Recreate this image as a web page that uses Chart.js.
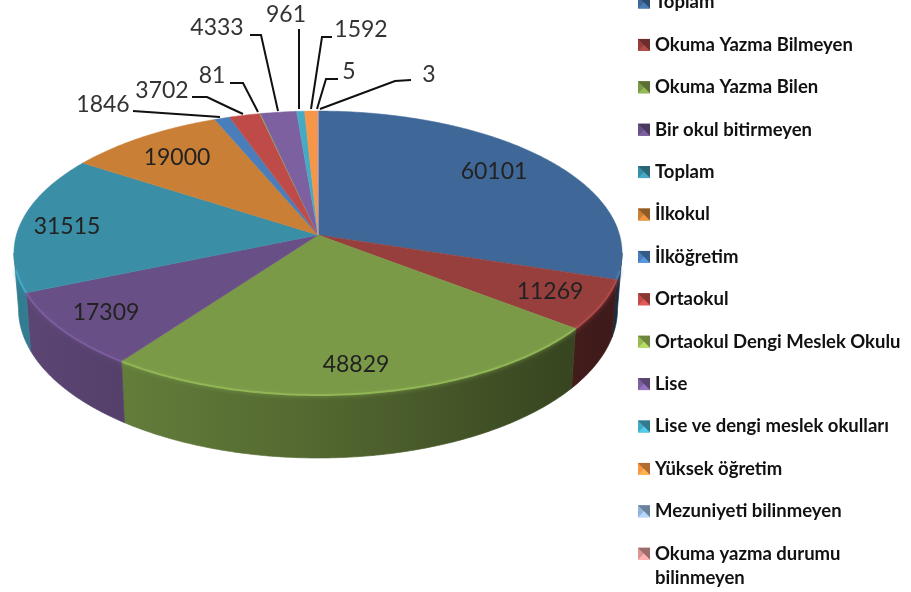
<!DOCTYPE html>
<html>
<head>
<meta charset="utf-8">
<title>Okuma yazma durumu</title>
<script src="https://cdn.jsdelivr.net/npm/chart.js@4/dist/chart.umd.min.js"></script>
<style>
    html, body { margin: 0; padding: 0; background: #fff; overflow: hidden; }
    canvas { display: block; }
</style>
</head>
<body>
<canvas id="pieChart" width="911" height="592"></canvas>
<script>
const categories = [
    "Toplam", "Okuma Yazma Bilmeyen", "Okuma Yazma Bilen", "Bir okul bitirmeyen",
    "Toplam", "İlkokul", "İlköğretim", "Ortaokul", "Ortaokul Dengi Meslek Okulu",
    "Lise", "Lise ve dengi meslek okulları", "Yüksek öğretim",
    "Mezuniyeti bilinmeyen", "Okuma yazma durumu bilinmeyen"
];
const values = [60101, 11269, 48829, 17309, 31515, 19000, 1846, 3702, 81, 4333, 961, 1592, 5, 3];
const colors = [
    "#3f6898", "#963f3d", "#7b9a48", "#684f85", "#3a8ea6", "#c97f36", "#4a7ebb",
    "#be4b48", "#98b954", "#7d60a0", "#46aac5", "#f79646", "#95b3d7", "#d99694"
];

// where the value labels sit, and the leader lines of the small slices
const innerLabels = { 0: [494, 172], 1: [550, 292], 2: [356, 365], 3: [106, 313], 4: [67, 227], 5: [177, 158] };
const outerLabels = {
    6: { text: [103, 105], line: [[133, 111], [220, 117]] },
    7: { text: [162, 91], line: [[192, 97], [207, 97], [230, 108], [243, 114]] },
    8: { text: [212, 76], line: [[230, 83], [243, 83], [258, 112]] },
    9: { text: [217, 28], line: [[250, 35], [261, 35], [278, 111]] },
    10: { text: [286, 15], line: [[299, 29], [299, 109]] },
    11: { text: [361, 30], line: [[332, 37], [322, 37], [311, 109]] },
    12: { text: [349, 72], line: [[338, 79], [326, 79], [317, 109]] },
    13: { text: [429, 75], line: [[411, 80], [395, 81], [320, 109]] }
};

// perspective of the tilted disk, the bottom of the wall is a bit narrower
const cx = 318, cy = 235, rimA = 301.6, rimB = 139.7, tilt = 0.1268, depth = 55, bottomShrink = 0.985;

function project(angle, drop) {
    const u = Math.cos(angle), v = Math.sin(angle), w = 1 - tilt * v;
    const x = rimA * u / w;
    return [cx + (drop ? x * bottomShrink : x), cy + (rimB * v + (drop ? depth : 0)) / w];
}

function shade(hex, f) {
    const n = parseInt(hex.slice(1), 16);
    const c = [n >> 16, (n >> 8) & 255, n & 255].map(x => Math.min(255, Math.round(x * f)));
    return `rgb(${c[0]},${c[1]},${c[2]})`;
}

function traceRim(ctx, from, to, drop, first) {
    const steps = Math.max(2, Math.ceil(Math.abs(to - from) * 90));
    for (let i = 0; i <= steps; i++) {
        const p = project(from + (to - from) * i / steps, drop);
        if (i === 0 && first) ctx.moveTo(p[0], p[1]); else ctx.lineTo(p[0], p[1]);
    }
}

const pie3d = {
    id: "pie3d",
    beforeDatasetDraw(chart) {
        const ctx = chart.ctx;
        const arcs = chart.getDatasetMeta(0).data;
        const front0 = Math.asin(tilt), front1 = Math.PI - front0;

        // side wall first
        arcs.forEach((arc, i) => {
            const a = Math.max(arc.startAngle, front0), b = Math.min(arc.endAngle, front1);
            if (b <= a) return;
            const grad = ctx.createLinearGradient(14, 0, 600, 0);
            grad.addColorStop(0, shade(colors[i], 0.88));
            grad.addColorStop(0.5, shade(colors[i], 0.68));
            grad.addColorStop(1, shade(colors[i], 0.42));
            ctx.beginPath();
            traceRim(ctx, a, b, false, true);
            traceRim(ctx, b, a, true, false);
            ctx.closePath();
            ctx.fillStyle = grad;
            ctx.fill();
            ctx.strokeStyle = grad;
            ctx.lineWidth = 0.7;
            ctx.stroke();
        });

        // top face
        arcs.forEach((arc, i) => {
            ctx.beginPath();
            ctx.moveTo(cx, cy);
            traceRim(ctx, arc.startAngle, arc.endAngle, false, false);
            ctx.closePath();
            ctx.fillStyle = colors[i];
            ctx.fill();
            ctx.strokeStyle = colors[i];
            ctx.lineWidth = 0.5;
            ctx.stroke();
        });

        // light bevel along the front rim, kept off the silhouette ends
        arcs.forEach((arc, i) => {
            const a = Math.max(arc.startAngle, front0 + 0.12), b = Math.min(arc.endAngle, front1 - 0.12);
            if (b <= a) return;
            ctx.save();
            ctx.beginPath();
            traceRim(ctx, a, b, false, true);
            ctx.strokeStyle = shade(colors[i], 1.18);
            ctx.lineWidth = 2;
            ctx.shadowColor = shade(colors[i], 1.05);
            ctx.shadowBlur = 4;
            ctx.stroke();
            ctx.restore();
        });
        return false;
    },
    afterDatasetsDraw(chart) {
        const ctx = chart.ctx;
        ctx.save();
        ctx.textAlign = "center";
        ctx.textBaseline = "middle";
        ctx.font = "23px Lato";
        ctx.fillStyle = "#222";
        Object.keys(innerLabels).forEach(i => {
            ctx.fillText(String(values[i]), innerLabels[i][0], innerLabels[i][1]);
        });
        Object.keys(outerLabels).forEach(i => {
            const o = outerLabels[i];
            ctx.fillStyle = "#333";
            ctx.fillText(String(values[i]), o.text[0], o.text[1]);
            ctx.beginPath();
            o.line.forEach((p, k) => k ? ctx.lineTo(p[0], p[1]) : ctx.moveTo(p[0], p[1]));
            ctx.strokeStyle = "#111";
            ctx.lineWidth = 2;
            ctx.stroke();
        });
        ctx.restore();
    },
    afterDraw(chart) {
        // legend column, one row every 42.4px
        const ctx = chart.ctx;
        ctx.save();
        ctx.textAlign = "left";
        ctx.textBaseline = "middle";
        ctx.font = "bold 18.5px Lato";
        categories.forEach((name, i) => {
            const y = 2.5 + i * 42.4, s = 12, x = 638, top = y - 6;
            ctx.fillStyle = colors[i];
            ctx.fillRect(x, top, s, s);
            ctx.fillStyle = shade(colors[i], 0.72);
            ctx.beginPath();
            ctx.moveTo(x, top); ctx.lineTo(x + s, top); ctx.lineTo(x + s, top + s); ctx.lineTo(x + s / 2, top + s / 2);
            ctx.closePath();
            ctx.fill();
            ctx.fillStyle = shade(colors[i], 1.2);
            ctx.beginPath();
            ctx.moveTo(x, top + s); ctx.lineTo(x + s, top + s); ctx.lineTo(x + s / 2, top + s / 2);
            ctx.closePath();
            ctx.fill();

            ctx.fillStyle = "#111";
            const words = name.split(" ");
            let line = "", rowY = y;
            words.forEach(word => {
                const next = line ? line + " " + word : word;
                if (ctx.measureText(next).width > 252 && line) {
                    ctx.fillText(line, 655, rowY);
                    rowY += 24;
                    line = word;
                } else {
                    line = next;
                }
            });
            ctx.fillText(line, 655, rowY);
        });
        ctx.restore();
    }
};

new Chart(document.getElementById("pieChart"), {
    type: "pie",
    data: {
        labels: categories,
        datasets: [{ data: values, backgroundColor: colors, borderWidth: 0 }]
    },
    options: {
        responsive: false,
        animation: false,
        plugins: { legend: { display: false }, tooltip: { enabled: false } }
    },
    plugins: [pie3d]
});
</script>
</body>
</html>
